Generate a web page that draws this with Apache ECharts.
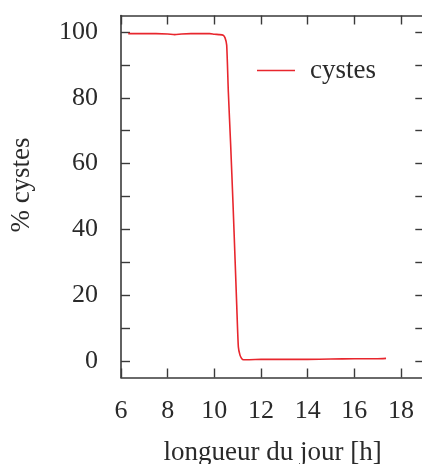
<!DOCTYPE html>
<html>
<head>
<meta charset="utf-8">
<script src="https://cdn.jsdelivr.net/npm/echarts@6/dist/echarts.min.js"></script>
<style>
  html, body { margin: 0; padding: 0; background: #fff; }
  #chart { width: 422px; height: 464px; }
</style>
</head>
<body>
<div id="chart"></div>
<script>
// Proportion of cysts versus day length
const dayLength = [6.31, 7.0, 7.5, 8.0, 8.3, 8.6, 9.0, 9.5, 9.8, 10.0, 10.2, 10.38, 10.46, 10.53,
  10.60, 10.70, 10.80, 10.89, 10.96, 11.03, 11.10, 11.17, 11.25, 11.5, 12, 13, 14, 15, 16, 17, 17.36];
const cystPercent = [99.5, 99.5, 99.5, 99.4, 99.2, 99.4, 99.5, 99.5, 99.5, 99.3, 99.2, 99.0, 98.2, 96.0,
  81.9, 65.7, 48.0, 30.7, 17.0, 4.3, 1.8, 0.8, 0.4, 0.4, 0.5, 0.5, 0.5, 0.6, 0.7, 0.7, 0.8];
const seriesName = 'cystes';
const xTitle = 'longueur du jour [h]';
const yTitle = '% cystes';
const xTickValues = [6, 8, 10, 12, 14, 16, 18];
const yLabelValues = [0, 20, 40, 60, 80, 100];
const yTickValues = [0, 10, 20, 30, 40, 50, 60, 70, 80, 90, 100];

const FONT = 'Liberation Serif';
const INK = '#2a2a2a';
const AXIS = '#3a3a3a';
const RED = '#e8262d';

const points = dayLength.map((x, i) => [x, cystPercent[i]]);

const xBase = {
  type: 'value', min: 6, max: 19, interval: 1,
  axisLine: { show: true, onZero: false, lineStyle: { color: AXIS, width: 1.6 } },
  axisTick: { show: true, inside: true, length: 9, lineStyle: { color: AXIS, width: 1.4 },
    customValues: xTickValues },
  splitLine: { show: false }
};
const yBase = {
  type: 'value', min: -5, max: 105, interval: 5,
  axisLine: { show: true, onZero: false, lineStyle: { color: AXIS, width: 1.6 } },
  axisTick: { show: true, inside: true, length: 9, lineStyle: { color: AXIS, width: 1.4 },
    customValues: yTickValues },
  splitLine: { show: false }
};

const chart = echarts.init(document.getElementById('chart'), null, { renderer: 'canvas' });
chart.setOption({
  animation: false,
  backgroundColor: '#fff',
  textStyle: { fontFamily: FONT },
  grid: { left: 121, top: 15.5, right: -2.3, bottom: 86.5, containLabel: false, outerBoundsMode: 'none' },
  legend: {
    data: [seriesName], left: 257, top: 57, padding: 0, icon: 'rect', itemWidth: 38, itemHeight: 1.6,
    textStyle: { fontFamily: FONT, fontSize: 27, color: INK, padding: [0, 0, 0, 10] }
  },
  xAxis: [
    Object.assign({}, xBase, {
      position: 'bottom', name: xTitle, nameLocation: 'middle', nameGap: 62,
      nameTextStyle: { fontFamily: FONT, fontSize: 27, color: INK },
      axisLabel: { show: true, margin: 21, fontFamily: FONT, fontSize: 26, color: INK,
        customValues: xTickValues }
    }),
    Object.assign({}, xBase, { position: 'top', axisLabel: { show: false } })
  ],
  yAxis: [
    Object.assign({}, yBase, {
      position: 'left',
      axisLabel: { show: true, margin: 23, fontFamily: FONT, fontSize: 26, color: INK,
        customValues: yLabelValues }
    }),
    Object.assign({}, yBase, { position: 'right', axisLabel: { show: false } })
  ],
  graphic: [{
    type: 'text', x: 22, y: 185, rotation: Math.PI / 2,
    style: { text: yTitle, font: '27px "Liberation Serif"', fill: INK,
      align: 'center', verticalAlign: 'middle' }
  }],
  series: [{
    name: seriesName, type: 'line', data: points, symbol: 'none', smooth: 0.2,
    lineStyle: { color: RED, width: 1.6 }, itemStyle: { color: RED }
  }]
});
</script>
</body>
</html>
